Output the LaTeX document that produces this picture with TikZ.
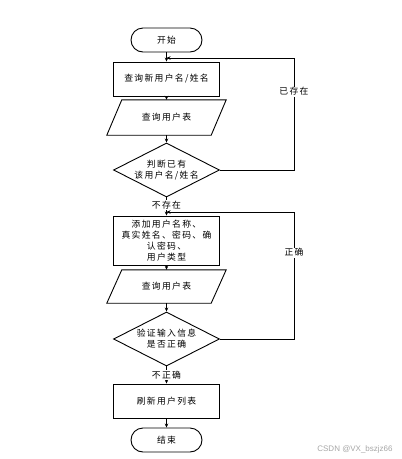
\documentclass[tikz,border=0pt]{standalone}
\usepackage{fontspec}
\setmainfont{Liberation Sans}
\newfontfamily\cjk[LetterSpace=15]{Noto Sans CJK SC}
\usetikzlibrary{shapes.geometric,arrows.meta}
\begin{document}
\begin{tikzpicture}[x=1pt,y=-1pt,
  every node/.style={font=\cjk\fontsize{8.8}{10.8}\selectfont, align=center},
  ln/.style={line width=0.9pt, draw=black},
  arr/.style={ln, -{Stealth[length=4pt,width=3.5pt]}},
  term/.style={ln, rounded corners=12pt, minimum width=71pt, minimum height=24pt, inner sep=0pt},
  proc/.style={ln, minimum width=106pt, minimum height=34pt, inner sep=1pt},
  io/.style={minimum width=104pt, minimum height=35pt, inner sep=0pt},
  dec/.style={ln, diamond, shape aspect=2, minimum width=106pt, minimum height=54pt, inner sep=0pt},
  lbl/.style={fill=white, inner sep=1pt}
]
\useasboundingbox (0,0) rectangle (402,459);

\node[term] (start) at (166.5,40) {开始};
\node[proc] (r1) at (166.5,79) {查询新用户名/姓名};
\node[io] (p1) at (166.5,117.5) {查询用户表};
\draw[ln] ([xshift=7.5pt]p1.north west) -- ([xshift=7.5pt]p1.north east) -- ([xshift=-7.5pt]p1.south east) -- ([xshift=-7.5pt]p1.south west) -- cycle;
\node[dec] (d1) at (166.5,170) {判断已有\\该用户名/姓名};
\node[proc, minimum height=49pt] (r2) at (166.5,240.5) {添加用户名称、\\真实姓名、密码、确\\认密码、\\用户类型};
\node[io, minimum height=33pt] (p2) at (166.5,286.5) {查询用户表};
\draw[ln] ([xshift=7.5pt]p2.north west) -- ([xshift=7.5pt]p2.north east) -- ([xshift=-7.5pt]p2.south east) -- ([xshift=-7.5pt]p2.south west) -- cycle;
\node[dec] (d2) at (166.5,339) {验证输入信息\\是否正确};
\node[proc] (r3) at (166.5,401) {刷新用户列表};
\node[term] (end) at (166.5,440) {结束};

\coordinate (j1) at (166.5,58);
\coordinate (c1) at (294,58);
\coordinate (j2) at (166.5,212);
\coordinate (c2) at (294,212);

\draw[arr] (start) -- (r1);
\draw[arr] (r1) -- (p1);
\draw[arr] (p1) -- (d1);
\draw[arr] (d1) -- node[lbl, pos=0.42] {不存在} (r2);
\draw[arr] (r2) -- (p2);
\draw[arr] (p2) -- (d2);
\draw[arr] (d2) -- node[lbl, pos=0.5] {不正确} (r3);
\draw[arr] (r3) -- (end);
\draw[arr] (d1.east) -| node[lbl, pos=0.85] {已存在} (c1) -- (j1);
\draw[arr] (d2.east) -| node[lbl, pos=0.84] {正确} (c2) -- (j2);

\node[text=black!35, font=\fontsize{8}{9}\selectfont] (wm) at (355,449) {CSDN @VX\_bszjz66};
\end{tikzpicture}
\end{document}
